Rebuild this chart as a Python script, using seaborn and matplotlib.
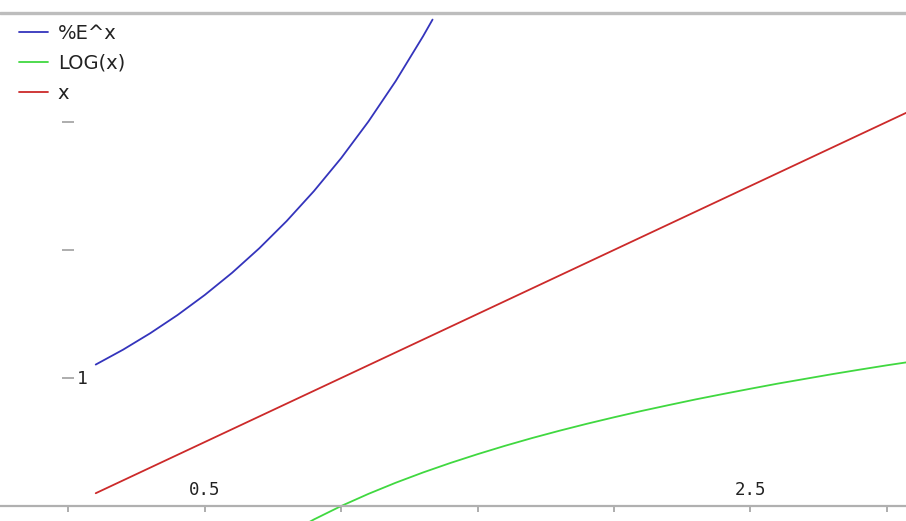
import matplotlib
matplotlib.use("Agg")
import matplotlib.pyplot as plt
import seaborn as sns
import pandas as pd

# values
x_exp = [0.1, 0.2, 0.3, 0.4, 0.5, 0.6, 0.7, 0.8, 0.9, 1.0, 1.1, 1.2, 1.3, 1.335]
y_exp = [1.105, 1.221, 1.350, 1.492, 1.649, 1.822, 2.014, 2.226, 2.460, 2.718,
         3.004, 3.320, 3.669, 3.800]

x_log = [0.1, 0.2, 0.3, 0.4, 0.5, 0.6, 0.7, 0.8, 0.9, 1.0, 1.1, 1.2, 1.3, 1.4, 1.5, 1.6,
         1.7, 1.8, 1.9, 2.0, 2.1, 2.2, 2.3, 2.4, 2.5, 2.6, 2.7, 2.8, 2.9, 3.0, 3.1]
y_log = [-2.303, -1.609, -1.204, -0.916, -0.693, -0.511, -0.357, -0.223, -0.105, 0.000,
         0.095, 0.182, 0.262, 0.336, 0.405, 0.470, 0.531, 0.588, 0.642, 0.693, 0.742,
         0.788, 0.833, 0.875, 0.916, 0.956, 0.993, 1.030, 1.065, 1.099, 1.131]

x_lin = [0.1, 3.1]
y_lin = [0.1, 3.1]

labels = ["%E^x", "LOG(x)", "x"]
colors = ["#3434bc", "#40d840", "#cc2a2a"]

x_ticks = [0.0, 0.5, 1.0, 1.5, 2.0, 2.5, 3.0]
x_tick_labels = ["", "0.5", "", "", "", "2.5", ""]
y_ticks = [1, 2, 3]
y_tick_labels = ["1", "", ""]

sns.set_style("white")
plt.rcParams["font.family"] = ["DejaVu Sans"]

fig = plt.figure(figsize=(9.06, 5.21), dpi=100)
ax = fig.add_axes([0, 0, 1, 1])

df_exp = pd.DataFrame({"x": x_exp, "y": y_exp})
df_log = pd.DataFrame({"x": x_log, "y": y_log})
df_lin = pd.DataFrame({"x": x_lin, "y": y_lin})
for df, lab, col in zip([df_exp, df_log, df_lin], labels, colors):
    sns.lineplot(data=df, x="x", y="y", ax=ax, color=col, lw=1.3, label=lab, sort=False)

ax.set_xlim(-0.251, 3.071)
ax.set_ylim(-0.117, 3.953)
ax.set_xlabel("")
ax.set_ylabel("")

for s in ["top", "right"]:
    ax.spines[s].set_visible(False)
ax.spines["bottom"].set_position(("data", 0))
ax.spines["bottom"].set_color("#b0b0b0")
ax.spines["bottom"].set_linewidth(1.6)
ax.spines["left"].set_position(("data", 0))
ax.spines["left"].set_visible(False)

ax.set_xticks(x_ticks)
ax.set_xticklabels([])
ax.tick_params(axis="x", direction="out", length=4.5, width=1.2, color="#a0a0a0", bottom=True)
ax.set_yticks(y_ticks)
ax.set_yticklabels([])
ax.tick_params(axis="y", direction="inout", length=8.5, width=1.2, color="#a0a0a0", left=True)

for xv, t in zip(x_ticks, x_tick_labels):
    if t:
        ax.text(xv, 0.125, t, ha="center", va="center", fontsize=12.5,
                family="DejaVu Sans Mono", color="#222222")
for yv, t in zip(y_ticks, y_tick_labels):
    if t:
        ax.text(0.03, yv - 0.01, t, ha="left", va="center", fontsize=13,
                family="DejaVu Sans Mono", color="#222222")

ax.axhline(3.855, color="#bdbdbd", lw=2.4)

leg = ax.legend(loc="upper left", bbox_to_anchor=(19 / 906, 1 - 24 / 521), frameon=False,
                fontsize=14, handlelength=1.5, handletextpad=0.5, labelspacing=0.56,
                borderaxespad=0, borderpad=0)
for t in leg.get_texts():
    t.set_color("#222222")

fig.savefig("out.png", dpi=100)
